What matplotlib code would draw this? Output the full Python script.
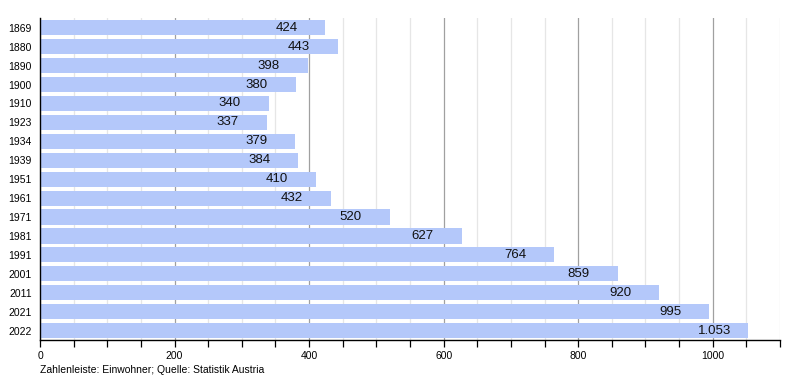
import matplotlib
matplotlib.use("Agg")
import matplotlib.pyplot as plt
from matplotlib.ticker import MultipleLocator

# Einwohner nach Jahr (Statistik Austria)
years = ["1869", "1880", "1890", "1900", "1910", "1923", "1934", "1939",
         "1951", "1961", "1971", "1981", "1991", "2001", "2011", "2021", "2022"]
population = [424, 443, 398, 380, 340, 337, 379, 384,
              410, 432, 520, 627, 764, 859, 920, 995, 1053]
value_labels = ["424", "443", "398", "380", "340", "337", "379", "384",
                "410", "432", "520", "627", "764", "859", "920", "995", "1.053"]
footnote = "Zahlenleiste: Einwohner; Quelle: Statistik Austria"

plt.rcParams["font.family"] = ["Liberation Sans", "DejaVu Sans"]

fig = plt.figure(figsize=(8, 3.8), dpi=100)
ax = fig.add_axes([0.05, 0.105, 0.925, 0.847])

pos = list(range(len(years)))
ax.barh(pos, population, height=0.8, color="#b4c8fa", zorder=2)

ax.set_xlim(0, 1100)
ax.set_ylim(len(years) - 0.5, -0.5)

# Gitter: hell alle 50, dunkler alle 200
ax.xaxis.set_major_locator(MultipleLocator(200))
ax.xaxis.set_minor_locator(MultipleLocator(50))
ax.grid(axis="x", which="minor", color="#e6e6e6", linewidth=0.9, zorder=0)
ax.grid(axis="x", which="major", color="#a0a0a0", linewidth=0.9, zorder=1)
ax.tick_params(axis="x", which="both", direction="out", length=5,
               width=0.9, labelsize=7.5, pad=3)
ax.tick_params(axis="y", length=0, labelsize=7.5, pad=6)

ax.set_yticks(pos)
ax.set_yticklabels(years)

for s in ("top", "right"):
    ax.spines[s].set_visible(False)
ax.spines["left"].set_linewidth(1.0)
ax.spines["bottom"].set_linewidth(1.0)

for p, v, lab in zip(pos, population, value_labels):
    ax.annotate(lab, (v, p), xytext=(-50, 0), textcoords="offset pixels",
                ha="left", va="center", fontsize=9.5, color="#111111", zorder=3)

fig.text(0.05, 0.026, footnote, fontsize=7.5, ha="left", va="center")

fig.savefig("out.png", dpi=100)
